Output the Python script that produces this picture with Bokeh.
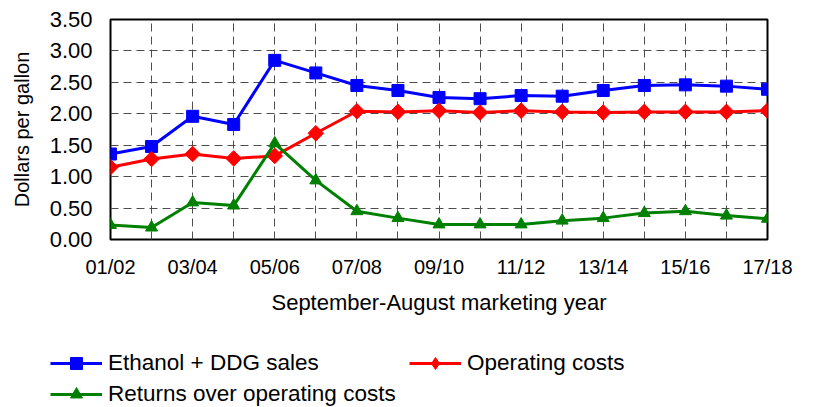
from bokeh.plotting import figure
from bokeh.models import Range1d, FixedTicker, Legend, LegendItem, NumeralTickFormatter
from bokeh.embed import file_html
from bokeh.resources import INLINE

years = ["01/02", "02/03", "03/04", "04/05", "05/06", "06/07", "07/08", "08/09", "09/10",
         "10/11", "11/12", "12/13", "13/14", "14/15", "15/16", "16/17", "17/18"]
ethanol_ddg_sales = [1.36, 1.48, 1.96, 1.83, 2.85, 2.65, 2.45, 2.37, 2.26,
                     2.24, 2.29, 2.28, 2.37, 2.45, 2.46, 2.44, 2.39]
operating_costs = [1.15, 1.28, 1.36, 1.29, 1.33, 1.69, 2.04, 2.03, 2.05,
                   2.02, 2.05, 2.03, 2.02, 2.03, 2.03, 2.03, 2.05]
returns_over_costs = [0.23, 0.19, 0.59, 0.54, 1.53, 0.94, 0.45, 0.34, 0.24,
                      0.24, 0.24, 0.30, 0.34, 0.42, 0.45, 0.38, 0.33]
y_ticks = [0.0, 0.5, 1.0, 1.5, 2.0, 2.5, 3.0, 3.5]
series_labels = ["Ethanol + DDG sales", "Operating costs", "Returns over operating costs"]

FONT = "Liberation Sans"
BLUE, RED, GREEN = "#0000ff", "#ff0000", "#008000"
xs = list(range(len(years)))

# ---------------- main chart ----------------
p = figure(width=798, height=330, output_backend="svg", toolbar_location=None,
           x_range=Range1d(0, len(years) - 1), y_range=Range1d(y_ticks[0], y_ticks[-1]),
           min_border_left=110, min_border_right=31, min_border_top=19, min_border_bottom=91,
           background_fill_color="white", border_fill_color="white")

p.outline_line_color = "black"
p.outline_line_width = 2

p.xaxis.ticker = FixedTicker(ticks=xs[::2])
p.xaxis.major_label_overrides = {i: years[i] for i in xs}
p.yaxis.ticker = FixedTicker(ticks=y_ticks)
p.yaxis.formatter = NumeralTickFormatter(format="0.00")
for ax in (p.xaxis, p.yaxis):
    ax.axis_line_color = None
    ax.major_tick_line_color = None
    ax.minor_tick_line_color = None
    ax.major_tick_out = 0
    ax.major_tick_in = 0
    ax.major_label_text_font = FONT
    ax.major_label_text_color = "black"
    ax.axis_label_text_font = FONT
    ax.axis_label_text_font_style = "normal"
    ax.axis_label_text_color = "black"
p.xaxis.major_label_text_font_size = "20px"
p.yaxis.major_label_text_font_size = "22px"
p.xaxis.major_label_standoff = 16
p.yaxis.major_label_standoff = 18
p.xaxis.axis_label = "September-August marketing year"
p.yaxis.axis_label = "Dollars per gallon"
p.xaxis.axis_label_text_font_size = "22px"
p.yaxis.axis_label_text_font_size = "20px"
p.xaxis.axis_label_standoff = 9
p.yaxis.axis_label_standoff = 14

p.xgrid.ticker = FixedTicker(ticks=xs)
p.ygrid.ticker = FixedTicker(ticks=y_ticks)
for g in (p.xgrid, p.ygrid):
    g.grid_line_color = "#4d4d4d"
    g.grid_line_dash = "8 5"
    g.grid_line_width = 1

p.line(xs, ethanol_ddg_sales, line_color=BLUE, line_width=3)
p.scatter(xs, ethanol_ddg_sales, marker="square", size=12, fill_color=BLUE, line_color=BLUE)
p.line(xs, operating_costs, line_color=RED, line_width=3)
p.scatter(xs, operating_costs, marker="square", angle=0.7853981634, size=11,
          fill_color=RED, line_color=RED)
p.line(xs, returns_over_costs, line_color=GREEN, line_width=3)
p.scatter(xs, returns_over_costs, marker="triangle", size=12, fill_color=GREEN, line_color=GREEN)

# ---------------- legend strip below the chart ----------------
# same series drawn in a strip whose ranges exclude them; only the legend shows
f2 = figure(width=798, height=77, output_backend="svg", toolbar_location=None,
            x_range=Range1d(-20, -19), y_range=Range1d(-20, -19),
            x_axis_type=None, y_axis_type=None, min_border=0,
            background_fill_color="white", border_fill_color="white")
f2.grid.visible = False
f2.outline_line_color = None
a1 = f2.line(xs, ethanol_ddg_sales, line_color=BLUE, line_width=3)
b1 = f2.scatter(xs, ethanol_ddg_sales, marker="square", fill_color=BLUE, line_color=BLUE)
a2 = f2.line(xs, operating_costs, line_color=RED, line_width=3)
b2 = f2.scatter(xs, operating_costs, marker="diamond", fill_color=RED, line_color=RED)
a3 = f2.line(xs, returns_over_costs, line_color=GREEN, line_width=3)
b3 = f2.scatter(xs, returns_over_costs, marker="triangle", fill_color=GREEN, line_color=GREEN)

legend = Legend(items=[
    LegendItem(label=series_labels[0], renderers=[a1, b1]),
    LegendItem(label=series_labels[1], renderers=[a2, b2]),
    LegendItem(label=series_labels[2], renderers=[a3, b3]),
], orientation="horizontal", ncols=2, location=(50, -2))
legend.border_line_color = None
legend.background_fill_alpha = 0
legend.padding = 0
legend.margin = 0
legend.spacing = 1
legend.glyph_width = 52
legend.glyph_height = 30
legend.label_standoff = 6
legend.label_width = 300
legend.label_text_font = FONT
legend.label_text_font_size = "22.5px"
legend.label_text_color = "black"
f2.add_layout(legend, "center")

open("out.html", "w").write(file_html([p, f2], INLINE))
